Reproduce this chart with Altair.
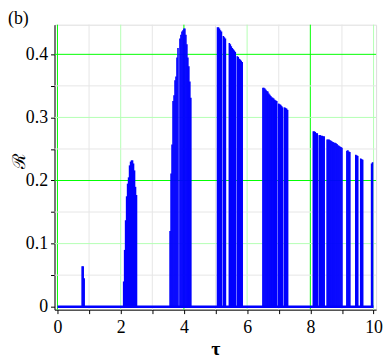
import altair as alt
import pandas as pd

# ---- data: spike positions (tau) and heights (R) ----
tau_c1 = [0.781, 0.813, 0.844]
r_c1 = [0.064, 0.064, 0.045]

tau_c2 = [2.094, 2.125, 2.156, 2.188, 2.219, 2.250, 2.281, 2.313, 2.344, 2.375, 2.406, 2.438, 2.469, 2.500]
r_c2 = [0.040, 0.090, 0.137, 0.175, 0.195, 0.205, 0.224, 0.230, 0.232, 0.232, 0.227, 0.216, 0.190, 0.177]

tau_c3 = [3.563, 3.594, 3.625, 3.656, 3.688, 3.719, 3.750, 3.781, 3.813, 3.875, 3.906, 3.938,
          3.969, 4.000, 4.031, 4.063, 4.094, 4.125, 4.156, 4.188, 4.219]
r_c3 = [0.120, 0.211, 0.257, 0.326, 0.335, 0.359, 0.365, 0.395, 0.410, 0.425, 0.431, 0.436,
        0.438, 0.441, 0.441, 0.431, 0.416, 0.395, 0.381, 0.357, 0.331]

tau_c4 = [5.063, 5.094, 5.125, 5.156, 5.188,
          5.250, 5.281, 5.313,
          5.438, 5.469, 5.500, 5.531, 5.563, 5.594, 5.625,
          5.688, 5.719, 5.750, 5.781, 5.813, 5.844]
r_c4 = [0.443, 0.443, 0.441, 0.438, 0.436,
        0.429, 0.427, 0.425,
        0.418, 0.416, 0.413, 0.410, 0.408, 0.406, 0.404,
        0.397, 0.396, 0.393, 0.392, 0.390, 0.388]

tau_c5 = [6.500, 6.531, 6.563, 6.594, 6.625, 6.656, 6.688, 6.719, 6.750, 6.781, 6.813, 6.844,
          6.875, 6.906, 6.938,
          7.000, 7.031, 7.063, 7.094, 7.125,
          7.188, 7.219, 7.250, 7.281]
r_c5 = [0.347, 0.347, 0.346, 0.344, 0.342, 0.341, 0.338, 0.336, 0.334, 0.332, 0.331, 0.330,
        0.328, 0.327, 0.326,
        0.322, 0.321, 0.320, 0.318, 0.316,
        0.316, 0.315, 0.314, 0.312]

tau_c6 = [8.094, 8.125, 8.156, 8.188, 8.219,
          8.281, 8.313, 8.344, 8.375, 8.406, 8.438,
          8.531, 8.563, 8.594, 8.625, 8.656, 8.688, 8.719, 8.750, 8.781, 8.813, 8.844, 8.875,
          8.906, 8.938, 8.969, 9.000,
          9.156, 9.188, 9.219, 9.250,
          9.438, 9.469, 9.500,
          9.594, 9.625, 9.656,
          9.938, 9.969]
r_c6 = [0.278, 0.278, 0.277, 0.275, 0.275,
        0.272, 0.272, 0.271, 0.271, 0.270, 0.270,
        0.265, 0.265, 0.265, 0.264, 0.263, 0.262, 0.261, 0.260, 0.260, 0.259, 0.258, 0.256,
        0.255, 0.254, 0.253, 0.252,
        0.247, 0.248, 0.246, 0.245,
        0.241, 0.240, 0.239,
        0.235, 0.234, 0.233,
        0.227, 0.229]

baseline_start = [0.0]
baseline_end = [10.0]

x_ticks = [0, 1, 2, 3, 4, 5, 6, 7, 8, 9, 10]
y_ticks = [0, 0.05, 0.1, 0.15, 0.2, 0.25, 0.3, 0.35, 0.4]

vgrid_pos = [1, 3, 5, 7, 9, 0, 4, 8, 2, 6, 10]
vgrid_col = ["#e6e6e6"] * 5 + ["#00ff00"] * 3 + ["#b4ffb4"] * 3
hgrid_pos = [0.05, 0.15, 0.25, 0.35, 0.2, 0.4, 0.1, 0.3]
hgrid_col = ["#e6e6e6"] * 4 + ["#00ff00"] * 2 + ["#b4ffb4"] * 2

# ---- tables ----
spikes = pd.DataFrame({
    "tau": tau_c1 + tau_c2 + tau_c3 + tau_c4 + tau_c5 + tau_c6,
    "R": r_c1 + r_c2 + r_c3 + r_c4 + r_c5 + r_c6,
})
spikes["zero"] = 0.0
base = pd.DataFrame({"tau": baseline_start, "tau2": baseline_end, "R": [0.0]})
vgrid = pd.DataFrame({"tau": vgrid_pos, "color": vgrid_col})
hgrid = pd.DataFrame({"R": hgrid_pos, "color": hgrid_col})

FONT = "Liberation Serif"
xscale = alt.Scale(domain=[-0.094, 10.08], nice=False, zero=False)
yscale = alt.Scale(domain=[-0.0047, 0.447], nice=False, zero=False)

xaxis = alt.Axis(
    values=x_ticks, labelExpr="datum.value % 2 == 0 ? format(datum.value, 'd') : ''",
    grid=False, tickSize=4, tickColor="black", domainColor="black",
    labelFont=FONT, labelFontSize=18, labelColor="black", labelPadding=5,
    labelFlush=False, labelOverlap=False,
    title="τ", titleFont=FONT, titleFontSize=20, titleFontWeight="bold",
    titleColor="black", titlePadding=2,
)
yaxis = alt.Axis(
    values=y_ticks,
    labelExpr="round(datum.value * 20) % 2 == 0 ? format(datum.value, '.1~f') : ''",
    grid=False, tickSize=4, tickColor="black", domainColor="black",
    labelFont=FONT, labelFontSize=18, labelColor="black", labelPadding=3,
    labelFlush=False, labelOverlap=False,
    title="ℛ", titleFont="DejaVu Serif", titleFontSize=18, titleFontWeight="normal",
    titleColor="black", titleX=-35, titleY=137, titleBaseline="middle",
)


def X(field):
    return alt.X(field, type="quantitative", scale=xscale, axis=xaxis)


def Y(field):
    return alt.Y(field, type="quantitative", scale=yscale, axis=yaxis)


vg = alt.Chart(vgrid).mark_rule(strokeWidth=1).encode(
    x=X("tau"), color=alt.Color("color:N", scale=None)
)
hg = alt.Chart(hgrid).mark_rule(strokeWidth=1).encode(
    y=Y("R"), color=alt.Color("color:N", scale=None)
)
bl = alt.Chart(base).mark_rule(strokeWidth=2.5, color="#0000ff").encode(
    x=X("tau"), x2="tau2", y=Y("R")
)
sp = alt.Chart(spikes).mark_rule(strokeWidth=1.6, color="#0000ff").encode(
    x=X("tau"), y=Y("R"), y2="zero"
)
lab = alt.Chart(pd.DataFrame({"t": ["(b)"]})).mark_text(
    font=FONT, fontSize=18, align="left", baseline="top", color="black"
).encode(x=alt.value(-47), y=alt.value(-15), text="t:N")

chart = alt.layer(vg, hg, bl, sp, lab).properties(
    width=325, height=288,
    autosize=alt.AutoSizeParams(type="none"),
    padding={"left": 47, "top": 15, "right": 8, "bottom": 47},
).configure_view(stroke="black", strokeWidth=1).configure(background="white")

chart.save("out.html", embed_options={"renderer": "svg", "actions": False})
